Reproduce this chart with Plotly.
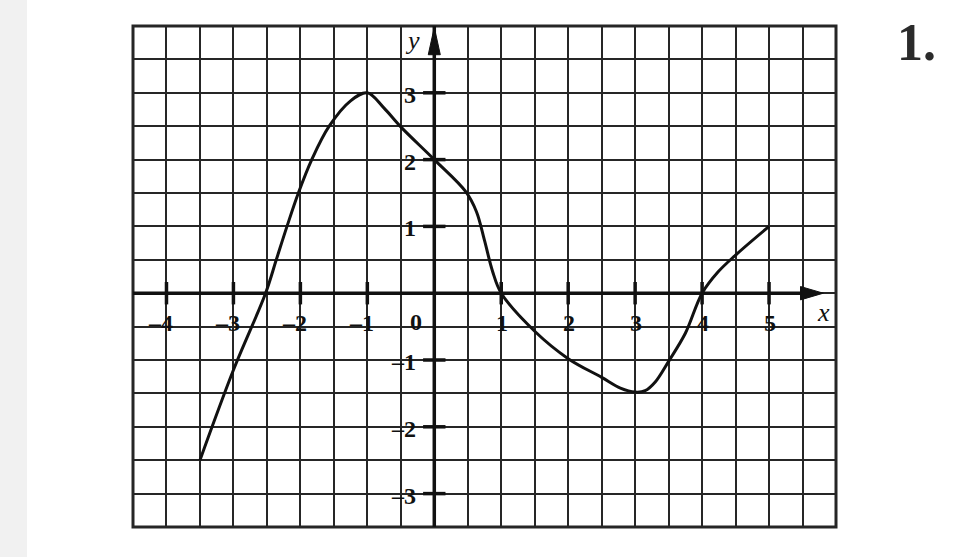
import plotly.graph_objects as go

# ---- data ----
curve_x = [-3.5, -3.0, -2.52, -2.36, -2.2, -2.03, -1.83, -1.57, -1.25, -1.0, -0.75, -0.5,
           0.0, 0.47, 0.63, 0.75, 0.87, 1.0, 1.5, 2.0, 2.5, 2.78, 3.0, 3.15,
           3.3, 3.5, 3.75, 4.0, 4.24, 4.5, 5.0]
curve_y = [-2.5, -1.15, 0.0, 0.5, 1.0, 1.5, 2.0, 2.5, 2.88, 3.0, 2.77, 2.49,
           2.0, 1.52, 1.22, 0.79, 0.33, 0.0, -0.57, -0.98, -1.26, -1.42, -1.48, -1.46,
           -1.33, -1.02, -0.6, 0.0, 0.32, 0.57, 1.0]

x_tick_vals = [-4, -3, -2, -1, 1, 2, 3, 4, 5]
x_tick_text = ['–4', '–3', '–2', '–1', '1', '2', '3', '4', '5']
y_tick_vals = [3, 2, 1, -1, -2, -3]
y_tick_text = ['3', '2', '1', '–1', '–2', '–3']

x_range = [-4.5, 6.0]
y_range = [-3.5, 4.0]
x_arrow_tip = 5.81
y_arrow_tip = 3.98
grid_step = 0.5

W, H = 972, 557
GRID = '#262626'
INK = '#111111'
FONT = 'Liberation Serif'

fig = go.Figure()

# curve
fig.add_trace(go.Scatter(x=curve_x, y=curve_y, mode='lines',
                         line=dict(color=INK, width=3, shape='spline', smoothing=1.0),
                         hoverinfo='skip', showlegend=False))

# small tick marks on axes
fig.add_trace(go.Scatter(x=x_tick_vals, y=[0] * len(x_tick_vals), mode='markers',
                         marker=dict(symbol='line-ns', size=16, line=dict(color=INK, width=3.5)),
                         hoverinfo='skip', showlegend=False))
fig.add_trace(go.Scatter(x=[0] * len(y_tick_vals), y=y_tick_vals, mode='markers',
                         marker=dict(symbol='line-ew', size=16, line=dict(color=INK, width=3.5)),
                         hoverinfo='skip', showlegend=False))

axis_common = dict(showticklabels=False, ticks='', zeroline=False, showline=False,
                   showgrid=True, gridcolor=GRID, gridwidth=2.4, dtick=grid_step, tick0=0,
                   fixedrange=True)
fig.update_xaxes(range=x_range, domain=[133 / W, 836 / W], **axis_common)
fig.update_yaxes(range=y_range, domain=[(H - 527) / H, (H - 26) / H], **axis_common)

shapes = []
# left grey strip
shapes.append(dict(type='rect', xref='paper', yref='paper', x0=0, x1=27 / W, y0=0, y1=1,
                   fillcolor='#f1f1f1', line=dict(width=0), layer='below'))
# border of grid
shapes.append(dict(type='rect', xref='x domain', yref='y domain', x0=0, x1=1, y0=0, y1=1,
                   line=dict(color=GRID, width=3), fillcolor='rgba(0,0,0,0)'))
# axes lines
shapes.append(dict(type='line', xref='x', yref='y', x0=x_range[0], x1=x_arrow_tip - 0.2,
                   y0=0, y1=0, line=dict(color=INK, width=3.5)))
shapes.append(dict(type='line', xref='x', yref='y', x0=0, x1=0,
                   y0=y_range[0], y1=y_range[1], line=dict(color=INK, width=3.5)))
# arrowheads
ax_len, ax_half = 0.34, 0.1
shapes.append(dict(type='path', xref='x', yref='y',
                   path=f'M {x_arrow_tip - ax_len},{-ax_half} L {x_arrow_tip},0 L {x_arrow_tip - ax_len},{ax_half} Z',
                   fillcolor=INK, line=dict(color=INK, width=1)))
ay_len, ay_half = 0.41, 0.09
shapes.append(dict(type='path', xref='x', yref='y',
                   path=f'M {-ay_half},{y_arrow_tip - ay_len} L 0,{y_arrow_tip} L {ay_half},{y_arrow_tip - ay_len} Z',
                   fillcolor=INK, line=dict(color=INK, width=1)))

annotations = []
lab_font = dict(family=FONT, size=24, color=INK)
for v, t in zip(x_tick_vals, x_tick_text):
    annotations.append(dict(x=v, y=0, xref='x', yref='y', text=f'<b>{t}</b>', showarrow=False,
                            xanchor='right', yanchor='middle', xshift=9, yshift=-30,
                            font=lab_font))
annotations.append(dict(x=0, y=0, xref='x', yref='y', text='<b>0</b>', showarrow=False,
                        xanchor='right', yanchor='middle', xshift=-10, yshift=-29,
                        font=lab_font))
for v, t in zip(y_tick_vals, y_tick_text):
    annotations.append(dict(x=0, y=v, xref='x', yref='y', text=f'<b>{t}</b>', showarrow=False,
                            xanchor='right', yanchor='middle', xshift=-16, yshift=-2,
                            font=lab_font))
annotations.append(dict(x=0, y=y_range[1], xref='x', yref='y', text='<i>y</i>', showarrow=False,
                        xanchor='right', yanchor='middle', xshift=-12, yshift=-14,
                        font=dict(family=FONT, size=26, color=INK)))
annotations.append(dict(x=x_arrow_tip, y=0, xref='x', yref='y', text='<i>x</i>', showarrow=False,
                        xanchor='center', yanchor='middle', xshift=0, yshift=-19,
                        font=dict(family=FONT, size=26, color=INK)))
annotations.append(dict(x=895 / W, y=1 - 42 / H, xref='paper', yref='paper', text='<b>1.</b>',
                        showarrow=False, xanchor='left', yanchor='middle',
                        font=dict(family=FONT, size=52, color='#2b2b2b')))

fig.update_layout(width=W, height=H, margin=dict(l=0, r=0, t=0, b=0),
                  paper_bgcolor='white', plot_bgcolor='white',
                  shapes=shapes, annotations=annotations, showlegend=False)

fig.write_html('out.html', config={'displayModeBar': False},
               post_script="document.body.style.margin='0px';document.body.style.overflow='hidden';")
